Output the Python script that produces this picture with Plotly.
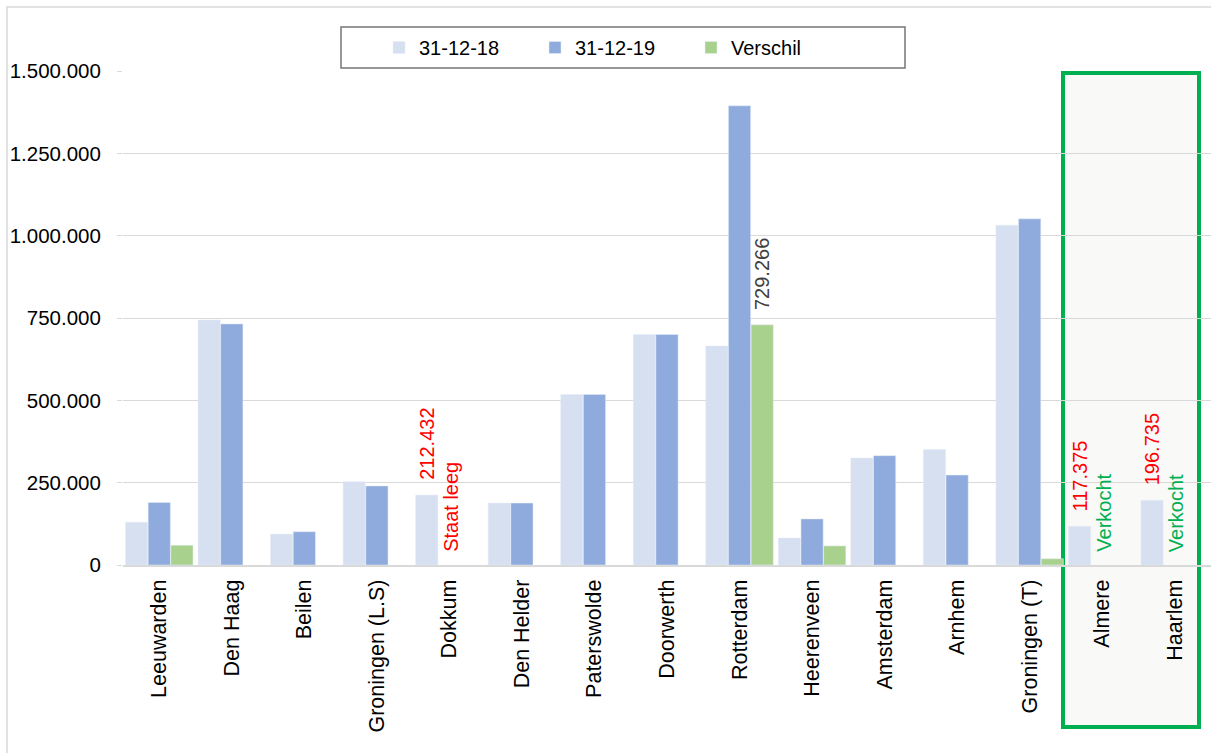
import plotly.graph_objects as go

# Locations (x axis categories)
locations = ["Leeuwarden", "Den Haag", "Beilen", "Groningen (L.S)", "Dokkum",
             "Den Helder", "Paterswolde", "Doorwerth", "Rotterdam", "Heerenveen",
             "Amsterdam", "Arnhem", "Groningen (T)", "Almere", "Haarlem"]

# Stock at 31-12-18
stock_2018 = [130000, 744000, 94000, 253000, 212432, 188000, 518000, 700000,
              665000, 82000, 325000, 351000, 1032000, 117375, 196735]

# Stock at 31-12-19 (None = empty / sold)
stock_2019 = [190000, 732000, 101000, 240000, None, 188000, 518000, 700000,
              1394266, 140000, 332000, 273000, 1051000, None, None]

# Positive difference shown as a third bar
difference = [60000, None, None, None, None, None, None, None,
              729266, 58000, None, None, 19000, None, None]

# Text notes written next to specific bars: (location index, series, text, colour)
notes = [
    (4, "2018", "212.432", "#FF0000"),
    (4, "empty", "Staat leeg", "#FF0000"),
    (8, "diff", "729.266", "#404040"),
    (13, "2018", "117.375", "#FF0000"),
    (13, "empty", "Verkocht", "#00B050"),
    (14, "2018", "196.735", "#FF0000"),
    (14, "empty", "Verkocht", "#00B050"),
]

FONT = "Liberation Sans, Arial, sans-serif"
C18, C19, CDIFF = "#D6E0F1", "#8FAADC", "#A9D18E"
GRID = "#D9D9D9"

W, H = 1211, 753
ML, MR, MT, MB = 123, 0, 71, 188
PW, PH = W - ML - MR, H - MT - MB
BARGAP = 0.063
SLOT = (1 - BARGAP) / 3


def px_x(px):
    return (px - ML) / PW


def px_y(py):
    return (H - MB - py) / PH


idx = list(range(len(locations)))

fig = go.Figure()
fig.add_trace(go.Bar(x=idx, y=stock_2018, name="31-12-18", marker_color=C18))
fig.add_trace(go.Bar(x=idx, y=stock_2019, name="31-12-19", marker_color=C19))
fig.add_trace(go.Bar(x=idx, y=difference, name="Verschil", marker_color=CDIFF))

for i, series, text, color in notes:
    if series == "2018":
        xv, yv, shift = i - SLOT, stock_2018[i], 13
    elif series == "diff":
        xv, yv, shift = i + SLOT, difference[i], 13
    else:
        xv, yv, shift = i + 0.02, 0, 11
    fig.add_annotation(x=xv, y=yv, xref="x", yref="y", text=text, showarrow=False,
                       textangle=-90, xanchor="center", yanchor="bottom", yshift=shift,
                       font=dict(family=FONT, size=20, color=color))

# outer chart border
fig.add_shape(type="rect", xref="paper", yref="paper",
              x0=px_x(7), x1=px_x(1230), y0=px_y(770), y1=px_y(7),
              line=dict(color=GRID, width=1.5), fillcolor="rgba(0,0,0,0)", layer="below")

# highlight frame around the sold locations
fig.add_shape(type="rect", xref="paper", yref="paper",
              x0=px_x(1063), x1=px_x(1199), y0=px_y(727), y1=px_y(73),
              line=dict(color="#00B050", width=4), fillcolor="#F9F9F7", layer="below")

# legend frame
fig.add_shape(type="rect", xref="paper", yref="paper",
              x0=px_x(341), x1=px_x(905), y0=px_y(68), y1=px_y(27),
              line=dict(color="#767676", width=1.5), fillcolor="white", layer="below")

fig.update_layout(
    width=W, height=H, autosize=False,
    margin=dict(l=ML, r=MR, t=MT, b=MB, pad=0),
    barmode="group", bargap=BARGAP, bargroupgap=0.02,
    paper_bgcolor="white", plot_bgcolor="rgba(0,0,0,0)",
    separators=",.",
    font=dict(family=FONT, size=20, color="black"),
    legend=dict(orientation="h", x=px_x(379), xanchor="left",
                y=px_y(47.5), yanchor="middle",
                entrywidth=111, entrywidthmode="pixels",
                bgcolor="rgba(0,0,0,0)", borderwidth=0,
                font=dict(family=FONT, size=20, color="black")),
    showlegend=True,
)

fig.update_xaxes(
    tickmode="array", tickvals=idx, ticktext=locations, tickangle=-90,
    range=[-0.5, len(locations) - 0.5], showgrid=False,
    showline=True, linecolor=GRID, linewidth=2, ticks="",
    ticklabelstandoff=4,
    tickfont=dict(family=FONT, size=21.5, color="black"),
)
fig.update_yaxes(
    range=[0, 1500000], dtick=250000, tick0=0, tickformat=",.0f",
    showgrid=True, gridcolor=GRID, gridwidth=1.2, zeroline=False,
    ticks="outside", ticklen=5, tickcolor=GRID, ticklabelstandoff=12,
    tickfont=dict(family=FONT, size=20.5, color="black"),
)

fig.write_html("out.html")
